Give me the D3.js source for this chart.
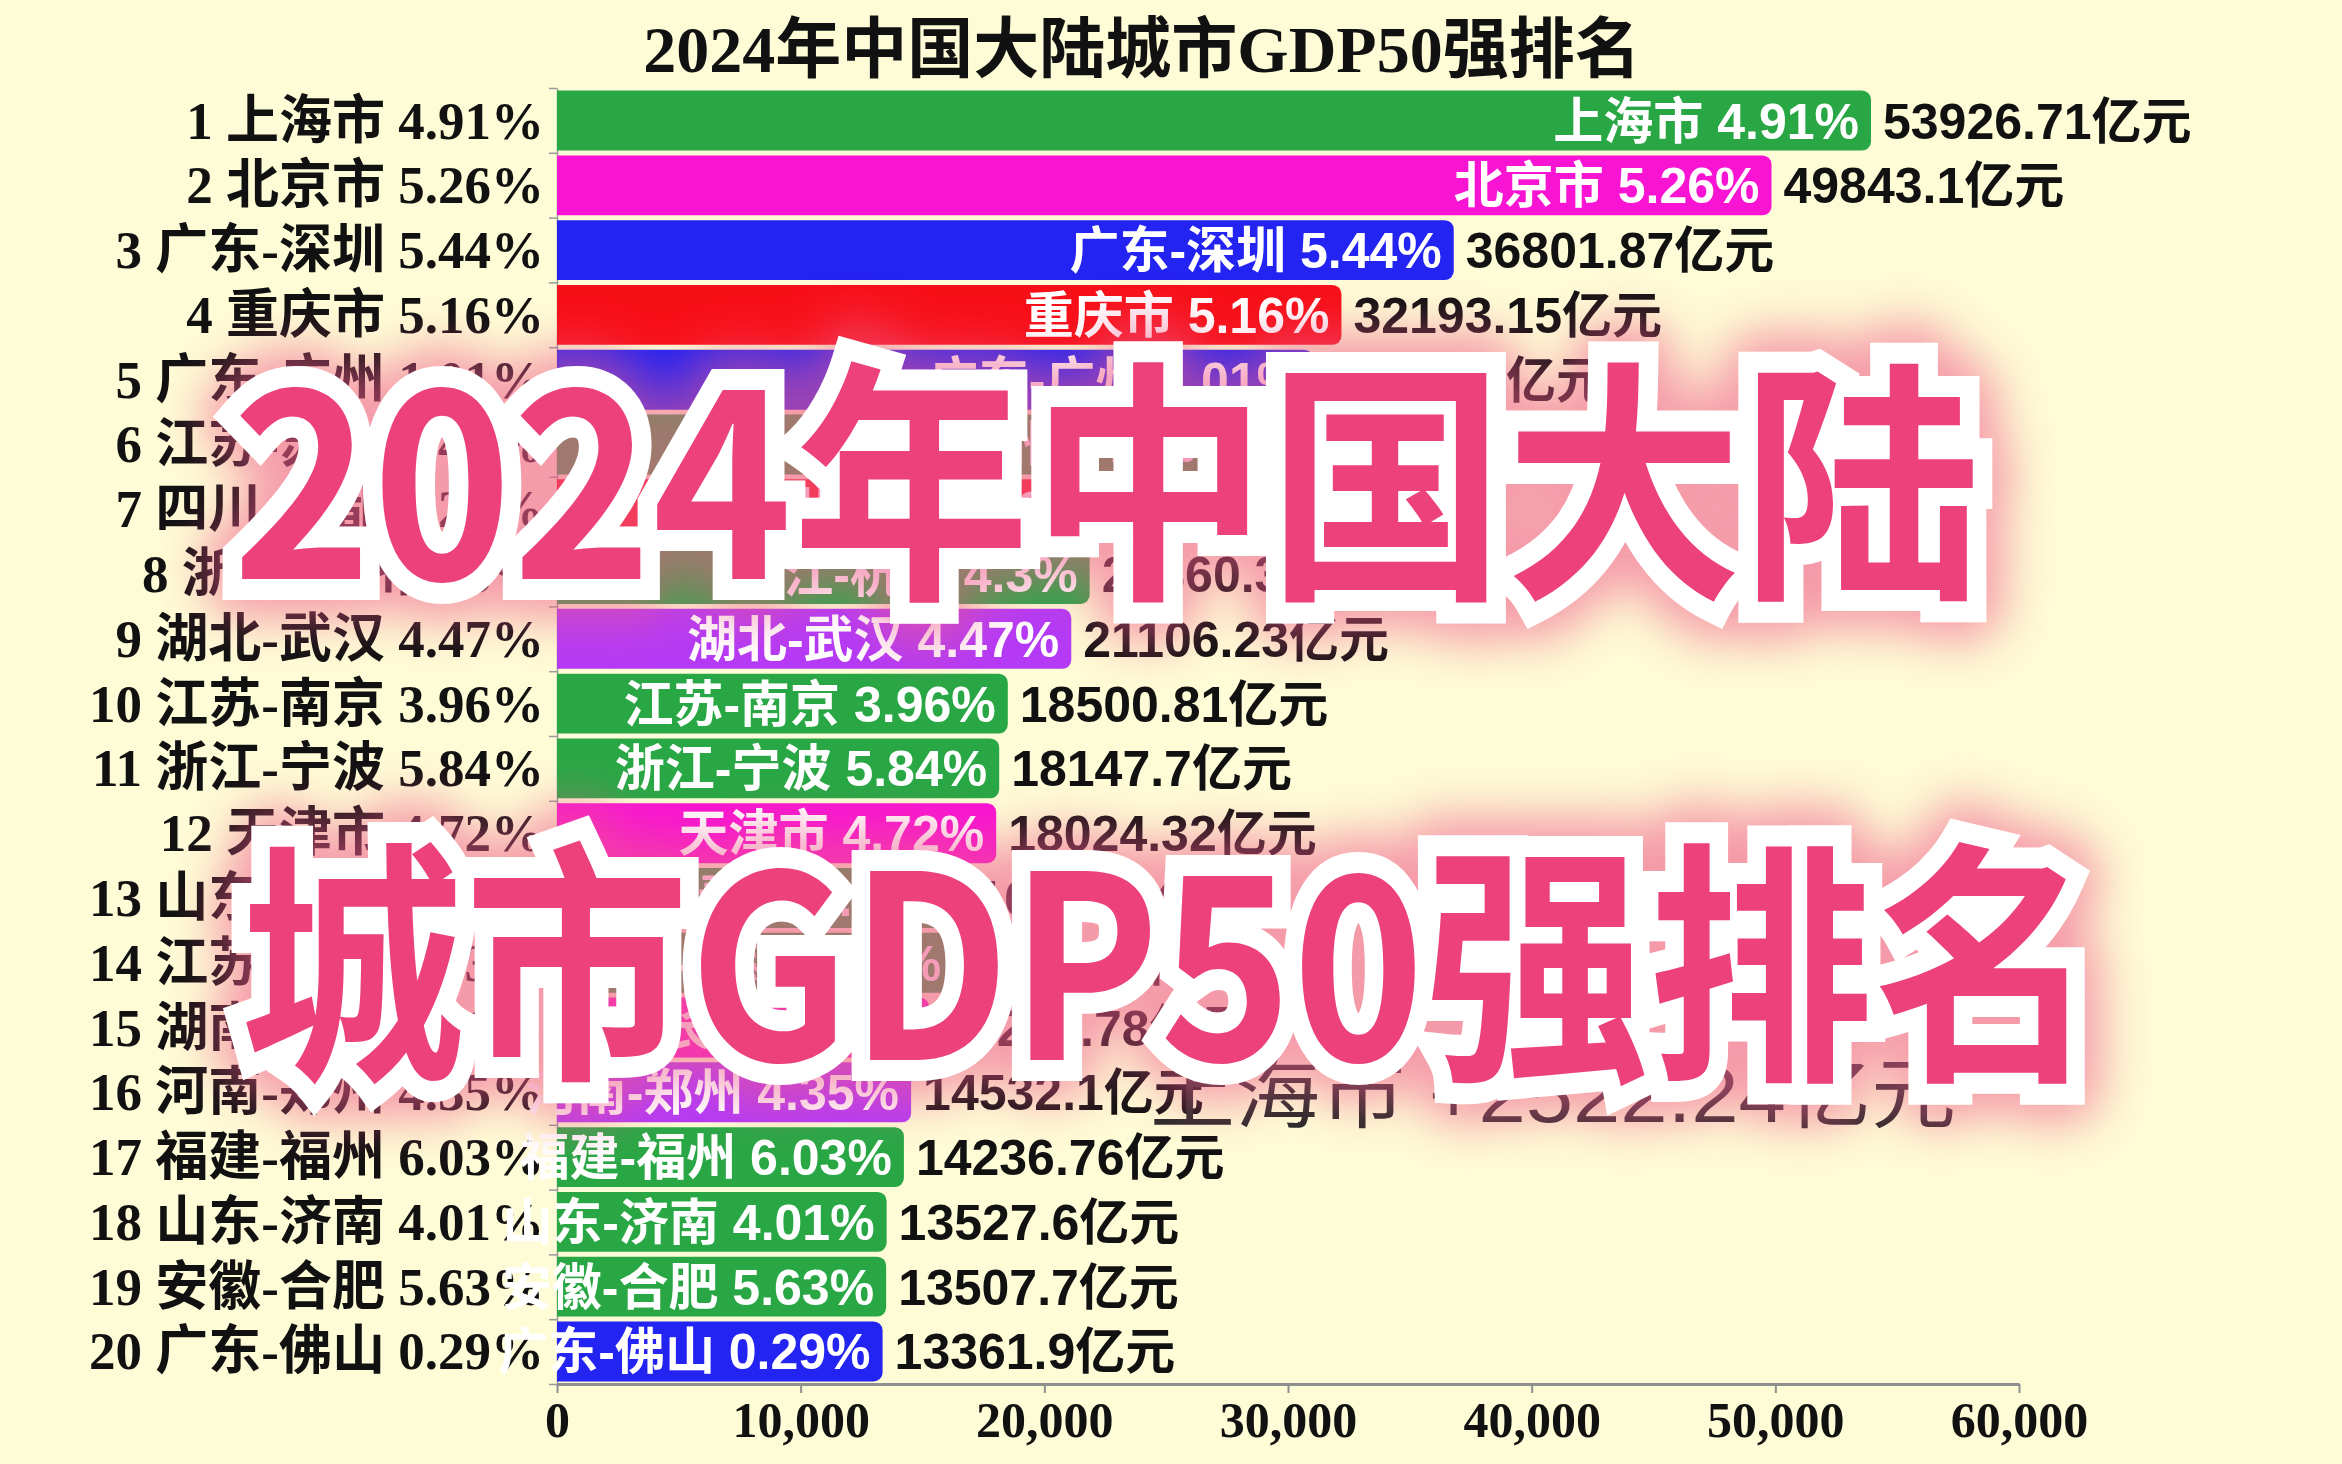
<!DOCTYPE html>
<html><head><meta charset="utf-8">
<script src="https://cdn.jsdelivr.net/npm/d3@7"></script>
<style>html,body{margin:0;padding:0;background:#fefcd6;overflow:hidden}svg{display:block}</style>
</head><body>
<svg id="c" width="2342" height="1464"></svg>
<script>
// ---------- data ----------
const cities = ["上海市","北京市","广东-深圳","重庆市","广东-广州","江苏-苏州","四川-成都","浙江-杭州","湖北-武汉","江苏-南京","浙江-宁波","天津市","山东-青岛","江苏-无锡","湖南-长沙","河南-郑州","福建-福州","山东-济南","安徽-合肥","广东-佛山"];
const gdp = [53926.71,49843.1,36801.87,32193.15,31032.5,26727,23511.3,21860.3,21106.23,18500.81,18147.7,18024.32,16719.5,16263.6,15268.78,14532.1,14236.76,13527.6,13507.7,13361.9];
const growth = ["4.91%","5.26%","5.44%","5.16%","1.01%","4.45%","5.25%","4.3%","4.47%","3.96%","5.84%","4.72%","5.08%","3.53%","1.96%","4.35%","6.03%","4.01%","5.63%","0.29%"];
const xTicks = [0,10000,20000,30000,40000,50000,60000];
const titleText = "2024年中国大陆城市GDP50强排名";
const deltaText = "上海市 +2522.24亿元";
const coverLines = ["2024年中国大陆","城市GDP50强排名"];

// ---------- styles ----------
const groupColor = {"上海市":"#29a745","北京市":"#f814d2","天津市":"#f814d2","重庆市":"#f70f17",
  "广东":"#2323f2","江苏":"#29a745","浙江":"#29a745","山东":"#29a745","福建":"#29a745","安徽":"#29a745",
  "四川":"#f70f17","湖北":"#b43af5","河南":"#b43af5","湖南":"#f814d2"};
const colorOf = n => groupColor[n.split("-")[0]];
const serif = "'Liberation Serif','Noto Sans CJK SC',serif";
const sans = "'Liberation Sans','Noto Sans CJK SC',sans-serif";

const svg = d3.select("#c");
svg.append("rect").attr("width",2342).attr("height",1464).attr("fill","#fefcd6");

const rows = cities.map((c,i)=>({city:c,gdp:gdp[i],growth:growth[i],rank:i+1}));
const x = d3.scaleLinear().domain([0,60000]).range([557,2019]);
const y = d3.scaleBand().domain(cities).range([88,1384]).paddingInner(0.075).paddingOuter(0.04);
const yb = d3.scaleLinear().domain([0,20]).range([88,1384]);

// y axis (band boundaries)
const ya = svg.append("g").attr("transform","translate(557,0)")
  .call(d3.axisLeft(yb).tickValues(d3.range(0,21)).tickFormat("").tickSize(8).tickSizeOuter(0));
ya.selectAll("path,line").attr("stroke","#9a9a9a").attr("stroke-width",1.5);

// left labels
svg.append("g").selectAll("text").data(rows).join("text")
  .attr("x",544).attr("y",d=>y(d.city)+y.bandwidth()/2).attr("dy","0.34em")
  .attr("text-anchor","end").attr("font-family",serif).attr("font-weight","bold")
  .attr("font-size",53).attr("fill","#111")
  .text(d=>`${d.rank} ${d.city} ${d.growth}`);

// bars
const r = 9;
svg.append("g").selectAll("path").data(rows).join("path")
  .attr("fill",d=>colorOf(d.city))
  .attr("d",d=>{
    const x0=x(0), x1=x(d.gdp), t=y(d.city), h=y.bandwidth();
    return `M${x0},${t}H${x1-r}A${r},${r} 0 0 1 ${x1},${t+r}V${t+h-r}A${r},${r} 0 0 1 ${x1-r},${t+h}H${x0}Z`;
  });

// inner labels
svg.append("g").selectAll("text").data(rows).join("text")
  .attr("x",d=>x(d.gdp)-12).attr("y",d=>y(d.city)+y.bandwidth()/2).attr("dy","0.36em")
  .attr("text-anchor","end").attr("font-family",sans).attr("font-weight","bold")
  .attr("font-size",50).attr("fill","#fff")
  .text(d=>`${d.city} ${d.growth}`);

// value labels
svg.append("g").selectAll("text").data(rows).join("text")
  .attr("x",d=>x(d.gdp)+12).attr("y",d=>y(d.city)+y.bandwidth()/2).attr("dy","0.36em")
  .attr("font-family",sans).attr("font-weight","bold")
  .attr("font-size",50).attr("fill","#111")
  .text(d=>`${d.gdp}亿元`);

// x axis
const xa = svg.append("g").attr("transform","translate(0,1384)")
  .call(d3.axisBottom(x).tickValues(xTicks).tickFormat(d3.format(",")).tickSize(9).tickSizeOuter(0).tickPadding(8));
xa.select(".domain").attr("stroke","#8f8f8f").attr("stroke-width",3);
xa.selectAll(".tick line").attr("stroke","#8f8f8f").attr("stroke-width",2);
xa.selectAll(".tick text").attr("font-family",serif).attr("font-weight","bold").attr("font-size",50).attr("fill","#111");

// delta text
svg.append("text").attr("x",1150).attr("y",1122).attr("font-family",sans).attr("font-size",78)
  .attr("fill","#2a2a2a")
  .attr("textLength",806).attr("lengthAdjust","spacingAndGlyphs").text(deltaText);

// title
svg.append("text").attr("x",1142).attr("y",72).attr("text-anchor","middle")
  .attr("font-family",serif).attr("font-weight","bold").attr("font-size",66).attr("fill","#111")
  .text(titleText);

// cover overlay
const defs = svg.append("defs");
defs.append("filter").attr("id","glow").attr("x","-20%").attr("y","-40%").attr("width","140%").attr("height","180%")
  .append("feGaussianBlur").attr("stdDeviation",24);
const cover = [
  {t:coverLines[0], x:232, y:579, len:1748},
  {t:coverLines[1], x:240, y:1060, len:1858}
];
const cg = svg.append("g");
cg.selectAll("text.glow").data(cover).join("text").attr("class","glow")
  .attr("x",d=>d.x).attr("y",d=>d.y).attr("textLength",d=>d.len).attr("lengthAdjust","spacingAndGlyphs")
  .attr("font-family","'Noto Sans CJK SC',sans-serif").attr("font-weight",700).attr("font-size",255)
  .attr("fill","#ef5a8a").attr("stroke","#ef5a8a").attr("stroke-width",80).attr("stroke-linejoin","round")
  .attr("opacity",0.6).attr("filter","url(#glow)").text(d=>d.t);
cg.selectAll("text.main").data(cover).join("text").attr("class","main")
  .attr("x",d=>d.x).attr("y",d=>d.y).attr("textLength",d=>d.len).attr("lengthAdjust","spacingAndGlyphs")
  .attr("font-family","'Noto Sans CJK SC',sans-serif").attr("font-weight",700).attr("font-size",255)
  .attr("fill","#ec417a").attr("stroke","#fff").attr("stroke-width",42).attr("stroke-linejoin","miter")
  .attr("paint-order","stroke").text(d=>d.t);
</script>
</body></html>
